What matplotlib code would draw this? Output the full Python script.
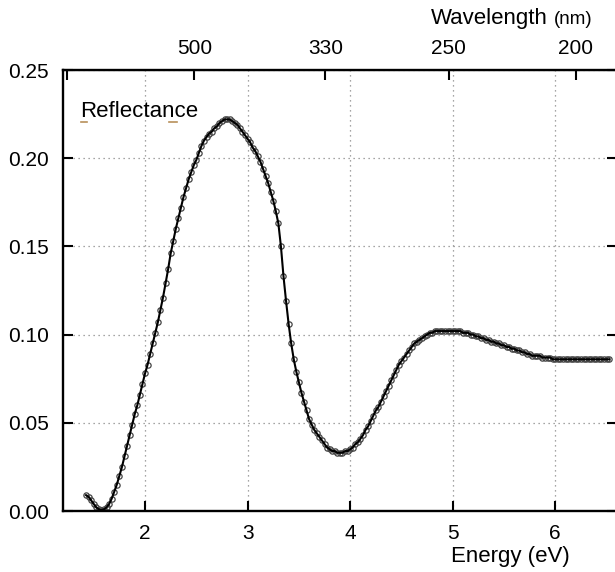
import numpy as np
import matplotlib.pyplot as plt

plt.rcParams['font.family'] = ['Liberation Sans', 'DejaVu Sans']

energia = [1.425, 1.45, 1.475, 1.50, 1.525, 1.55, 1.575, 1.60, 1.625, 1.65,
           1.675, 1.70, 1.725, 1.75, 1.775, 1.80, 1.825, 1.85, 1.875, 1.90,
           1.925, 1.95, 1.975, 2.00, 2.025, 2.05, 2.075, 2.10, 2.125, 2.15,
           2.175, 2.20, 2.225, 2.25, 2.275, 2.30, 2.325, 2.35, 2.375, 2.40,
           2.425, 2.45, 2.475, 2.50, 2.525, 2.55, 2.575, 2.60, 2.625, 2.65,
           2.675, 2.70, 2.725, 2.75, 2.775, 2.80, 2.825, 2.85, 2.875, 2.90,
           2.925, 2.95, 2.975, 3.00, 3.025, 3.05, 3.075, 3.10, 3.125, 3.15,
           3.175, 3.20, 3.225, 3.25, 3.275, 3.30, 3.325, 3.35, 3.375, 3.40,
           3.425, 3.45, 3.475, 3.50, 3.525, 3.55, 3.575, 3.60, 3.625, 3.65,
           3.675, 3.70, 3.725, 3.75, 3.775, 3.80, 3.825, 3.85, 3.875, 3.90,
           3.925, 3.95, 3.975, 4.00, 4.025, 4.05, 4.075, 4.10, 4.125, 4.15,
           4.175, 4.20, 4.225, 4.25, 4.275, 4.30, 4.325, 4.35, 4.375, 4.40,
           4.425, 4.45, 4.475, 4.50, 4.525, 4.55, 4.575, 4.60, 4.625, 4.65,
           4.675, 4.70, 4.725, 4.75, 4.775, 4.80, 4.825, 4.85, 4.875, 4.90,
           4.925, 4.95, 4.975, 5.00, 5.025, 5.05, 5.075, 5.10, 5.125, 5.15,
           5.175, 5.20, 5.225, 5.25, 5.275, 5.30, 5.325, 5.35, 5.375, 5.40,
           5.425, 5.45, 5.475, 5.50, 5.525, 5.55, 5.575, 5.60, 5.625, 5.65,
           5.675, 5.70, 5.725, 5.75, 5.775, 5.80, 5.825, 5.85, 5.875, 5.90,
           5.925, 5.95, 5.975, 6.00, 6.025, 6.05, 6.075, 6.10, 6.125, 6.15,
           6.175, 6.20, 6.225, 6.25, 6.275, 6.30, 6.325, 6.35, 6.375, 6.40,
           6.425, 6.45, 6.475, 6.50, 6.525]
reflect = [0.009, 0.008, 0.006, 0.004, 0.002, 0.001, 0.0005, 0.001, 0.002, 0.004,
           0.007, 0.011, 0.015, 0.020, 0.025, 0.031, 0.037, 0.043, 0.049, 0.055,
           0.060, 0.066, 0.072, 0.078, 0.083, 0.089, 0.095, 0.101, 0.107, 0.114,
           0.121, 0.129, 0.137, 0.146, 0.153, 0.160, 0.166, 0.172, 0.178, 0.183,
           0.188, 0.192, 0.196, 0.199, 0.203, 0.207, 0.210, 0.212, 0.214, 0.215,
           0.217, 0.218, 0.220, 0.221, 0.222, 0.222, 0.222, 0.221, 0.220, 0.219,
           0.217, 0.215, 0.213, 0.211, 0.209, 0.206, 0.204, 0.201, 0.198, 0.194,
           0.190, 0.186, 0.181, 0.176, 0.170, 0.163, 0.150, 0.133, 0.119, 0.106,
           0.095, 0.086, 0.079, 0.073, 0.067, 0.062, 0.057, 0.052, 0.049, 0.046,
           0.044, 0.042, 0.040, 0.038, 0.036, 0.035, 0.034, 0.034, 0.033, 0.033,
           0.033, 0.034, 0.034, 0.035, 0.036, 0.038, 0.039, 0.041, 0.043, 0.046,
           0.048, 0.051, 0.054, 0.057, 0.059, 0.062, 0.065, 0.068, 0.071, 0.074,
           0.077, 0.080, 0.083, 0.085, 0.087, 0.089, 0.091, 0.093, 0.095, 0.096,
           0.097, 0.098, 0.099, 0.100, 0.101, 0.101, 0.102, 0.102, 0.102, 0.102,
           0.102, 0.102, 0.102, 0.102, 0.102, 0.102, 0.102, 0.101, 0.101, 0.101,
           0.100, 0.100, 0.099, 0.099, 0.098, 0.098, 0.097, 0.097, 0.096, 0.096,
           0.095, 0.095, 0.094, 0.094, 0.093, 0.093, 0.092, 0.092, 0.091, 0.091,
           0.090, 0.090, 0.089, 0.089, 0.088, 0.088, 0.088, 0.088, 0.087, 0.087,
           0.087, 0.087, 0.086, 0.086, 0.086, 0.086, 0.086, 0.086, 0.086, 0.086,
           0.086, 0.086, 0.086, 0.086, 0.086, 0.086, 0.086, 0.086, 0.086, 0.086,
           0.086, 0.086, 0.086, 0.086, 0.086]

y_ticks = [0.00, 0.05, 0.10, 0.15, 0.20, 0.25]
x_ticks = [2, 3, 4, 5, 6]
lambda_ticks = [1000, 500, 330, 250, 200]
lambda_labels = ["", "500", "330", "250", "200"]

fig = plt.figure(figsize=(6.15, 5.72), dpi=100)
ax = fig.add_axes([0.1024, 0.1066, 0.9006, 0.771])

# datos (circulos) y curva encima
ax.plot(energia, reflect, 'o', mfc='none', mec='#444444', ms=3.8, mew=0.9)
ax.plot(energia, reflect, '-', color='black', lw=1.5)

ax.set_xlim(1.2, 6.6)
ax.set_ylim(0, 0.25)
ax.set_xticks(x_ticks)
ax.set_yticks(y_ticks)
ax.set_yticklabels(["%.2f" % v for v in y_ticks])
ax.grid(True, linestyle=(0, (1, 3)), color='#888888', lw=0.9)

ax.tick_params(direction='in', length=7.5, width=1.5, labelsize=15, pad=9,
               right=True, top=False)
ax.tick_params(axis='y', pad=10)
for s in ax.spines.values():
    s.set_linewidth(1.7)

# eje superior en longitud de onda
ax2 = ax.secondary_xaxis('top', functions=(lambda e: 1239.84 / e, lambda l: 1239.84 / l))
ax2.set_xticks(lambda_ticks)
ax2.set_xticklabels(lambda_labels)
ax2.tick_params(direction='in', length=7.5, width=1.5, labelsize=15, pad=9)

fig.text(0.891, 0.958, "Wavelength", fontsize=16, ha='right', va='baseline')
fig.text(0.901, 0.958, "(nm)", fontsize=13.5, ha='left', va='baseline')
fig.text(0.927, 0.018, "Energy (eV)", fontsize=16, ha='right', va='baseline')

ax.text(0.031, 0.893, "Reflectance", transform=ax.transAxes, fontsize=16,
        ha='left', va='baseline')
# marcas pequenas bajo el texto
ax.plot([0.032, 0.043], [0.881, 0.881], transform=ax.transAxes, color='#b8905a', lw=1.2)
ax.plot([0.192, 0.205], [0.881, 0.881], transform=ax.transAxes, color='#b8905a', lw=1.2)

fig.savefig("out.png", dpi=100)
